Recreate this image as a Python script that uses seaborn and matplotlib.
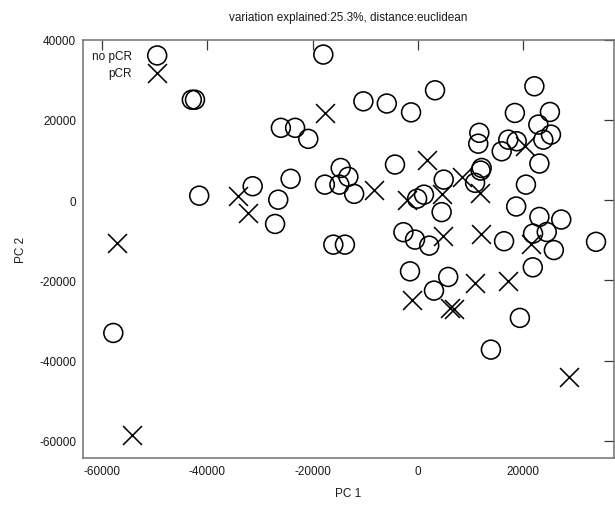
import matplotlib
matplotlib.use("Agg")
import matplotlib.pyplot as plt
import seaborn as sns
import pandas as pd

# PCA scores, samples without pathological complete response
no_pcr_pc1 = [-42900, -42300, -17950, -26000, -23300, -20800, -14650, -13200, -17650, -14900,
              -12100, -41500, -31350, -24150, -26500, -27100, -57800, -16050, -13850, 3250,
              -10350, -5900, -1300, 22100, 18400, 25050, 22850, 11650, 11450, 17150,
              18750, 25250, 23800, 15900, 23050, 12100, 11900, 10850, 20500, 18650,
              23050, 27200, 21850, 24450, 25800, 33800, 21800, 16350, -2750, -550,
              2150, -1500, 5750, 3050, 19350, 13850, -4350, -150, 1150, 4900, 4500]
no_pcr_pc2 = [25000, 25000, 36250, 18000, 18000, 15250, 8000, 5800, 3850, 3850,
              1550, 1100, 3450, 5300, 100, -5950, -33100, -11100, -11100, 27350,
              24600, 24050, 21850, 28350, 21700, 21950, 18800, 16750, 14050, 15050,
              14650, 16300, 15050, 12150, 9100, 8000, 7350, 4300, 3850, -1600,
              -4200, -4850, -8350, -7950, -12450, -10400, -16750, -10250, -8000, -9850,
              -11350, -17750, -19150, -22550, -29350, -37250, 8850, 350, 1350, 5100, -3000]

# PCA scores, samples with pathological complete response
pcr_pc1 = [-17650, -34100, -32200, -57150, -54300, -8350, 1650, -2150, 4500, 8350,
           11800, 20300, 4700, 11900, 21450, 10850, 17150, -1200, 6100, 6850, 28750]
pcr_pc2 = [21700, 1100, -3200, -10650, -58400, 2450, 10100, 100, 1500, 5750,
           1850, 13400, -9000, -8450, -10850, -20600, -20050, -24800, -26850, -27100, -44150]

group_labels = ["no pCR", "pCR"]
x_ticks = [-60000, -40000, -20000, 0, 20000]
y_ticks = [-60000, -40000, -20000, 0, 20000, 40000]
title_text = "variation explained:25.3%, distance:euclidean"

sns.set_theme(style="white")
plt.rcParams["font.family"] = ["Liberation Sans", "DejaVu Sans"]

df_no = pd.DataFrame({"PC1": no_pcr_pc1, "PC2": no_pcr_pc2})
df_p = pd.DataFrame({"PC1": pcr_pc1, "PC2": pcr_pc2})

fig = plt.figure(figsize=(6.15, 5.06), dpi=100)
ax = fig.add_axes([83 / 615, 47 / 506, 531 / 615, 418.5 / 506])

msize = 185
sns.scatterplot(data=df_no, x="PC1", y="PC2", ax=ax, marker="o", s=msize,
                facecolors="none", edgecolor="black", linewidth=1.15,
                label=group_labels[0], legend=False)
sns.scatterplot(data=df_p, x="PC1", y="PC2", ax=ax, marker="x", s=msize,
                color="black", linewidth=1.15, label=group_labels[1], legend=False)

ax.set_xlim(-63550, 37210)
ax.set_ylim(-64250, 40000)
ax.set_xticks(x_ticks)
ax.set_yticks(y_ticks)
ax.set_xticklabels([str(v) for v in x_ticks])
ax.set_yticklabels([str(v) for v in y_ticks])

ax.tick_params(axis="both", which="major", direction="in", length=7.5, width=0.9,
               color="#3a3a3a", labelsize=8.5, labelcolor="#1a1a1a", pad=5,
               top=True, right=True)
for sp in ax.spines.values():
    sp.set_color("#707070")
    sp.set_linewidth(1.1)

ax.set_xlabel("PC 1", fontsize=8.5, color="#1a1a1a", labelpad=7)
ax.set_ylabel("PC 2", fontsize=8.5, color="#1a1a1a", labelpad=9)
ax.set_title(title_text, fontsize=8.5, color="#1a1a1a", pad=14)

leg = ax.legend(loc="upper right", bbox_to_anchor=((169 - 83) / 531, 0.976),
                frameon=False, markerfirst=False, fontsize=8.5, borderpad=0,
                borderaxespad=0, handlelength=2.0, handletextpad=1.15,
                labelspacing=0.5)
for t in leg.get_texts():
    t.set_color("#1a1a1a")

fig.savefig("out.png", dpi=100)
